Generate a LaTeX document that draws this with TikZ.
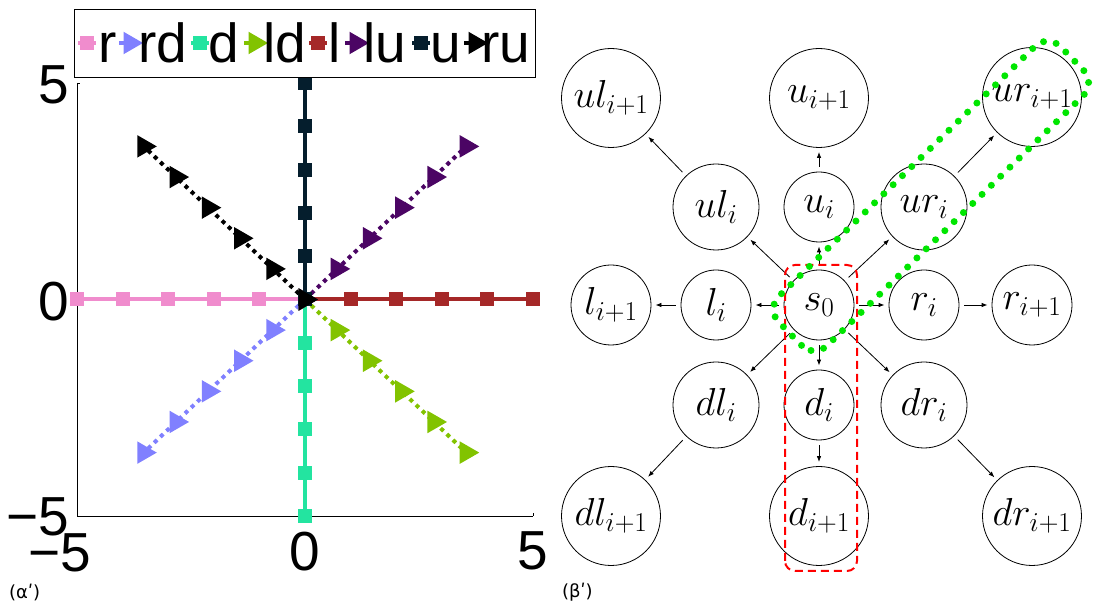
\RequirePackage{fix-cm}
\documentclass[tikz,border=0pt]{standalone}
\usepackage[no-math]{fontspec}
\setmainfont{Liberation Sans}
\newfontfamily\capfont{DejaVu Sans}
\usetikzlibrary{arrows.meta, plotmarks}

\definecolor{cr}{RGB}{240,140,205}
\definecolor{crd}{RGB}{128,128,255}
\definecolor{cd}{RGB}{35,228,160}
\definecolor{cld}{RGB}{130,195,0}
\definecolor{cl}{RGB}{165,40,40}
\definecolor{clu}{RGB}{75,5,100}
\definecolor{cu}{RGB}{5,30,45}
\definecolor{cru}{RGB}{0,0,0}
\definecolor{hlgreen}{RGB}{0,230,0}

\tikzset{
  solidln/.style={line width=4pt},
  dotln/.style={line width=4pt, dash pattern=on 4pt off 4.5pt},
  sqmark/.style={mark=square*, mark size=5pt, mark options={solid}},
  trimark/.style={mark=triangle*, mark size=9pt, mark options={solid, rotate=-90}},
  bigfont/.style={font=\fontsize{55}{60}\selectfont},
  state/.style={circle, draw, line width=0.8pt, inner sep=0pt, font=\fontsize{39}{44}\selectfont},
  stsmall/.style={state, minimum size=70pt},
  stside/.style={state, minimum size=80pt},
  stmid/.style={state, minimum size=86pt},
  stfar/.style={state, minimum size=99pt},
  trans/.style={-{Latex[length=6pt,width=4.5pt]}, line width=0.8pt, shorten <=5pt, shorten >=4pt},
}

\begin{document}
\begin{tikzpicture}[x=1pt, y=1pt]
  \useasboundingbox (0,0) rectangle (1098,608);

  % (a) plot of the eight directions
  \begin{scope}[shift={(305,308.5)}, x=45.6pt, y=43.3pt]
    \draw[line width=0.8pt] (-5,5) -- (-5,-5) -- (5,-5);
    \draw[line width=0.8pt] (-5,5) -- ++(3pt,0); \draw[line width=0.8pt] (5,-5) -- ++(0,3pt);
    \draw[cr, solidln, sqmark] plot coordinates {(0,0) (-1,0) (-2,0) (-3,0) (-4,0) (-5,0)};
    \draw[crd, dotln, trimark] plot coordinates {(0,0) (-0.707,-0.707) (-1.414,-1.414) (-2.121,-2.121) (-2.828,-2.828) (-3.536,-3.536)};
    \draw[cd, solidln, sqmark] plot coordinates {(0,0) (0,-1) (0,-2) (0,-3) (0,-4) (0,-5)};
    \draw[cld, dotln, trimark] plot coordinates {(0,0) (0.707,-0.707) (1.414,-1.414) (2.121,-2.121) (2.828,-2.828) (3.536,-3.536)};
    \draw[cl, solidln, sqmark] plot coordinates {(0,0) (1,0) (2,0) (3,0) (4,0) (5,0)};
    \draw[clu, dotln, trimark] plot coordinates {(0,0) (0.707,0.707) (1.414,1.414) (2.121,2.121) (2.828,2.828) (3.536,3.536)};
    \draw[cu, solidln, sqmark] plot coordinates {(0,0) (0,1) (0,2) (0,3) (0,4) (0,5)};
    \draw[cru, dotln, trimark] plot coordinates {(0,0) (-0.707,0.707) (-1.414,1.414) (-2.121,2.121) (-2.828,2.828) (-3.536,3.536)};
  \end{scope}

  % tick labels
  \node[bigfont, anchor=east] (yt5) at (73,523) {5};
  \node[bigfont, anchor=east] (yt0) at (73,306) {0};
  \node[bigfont, anchor=east] (ytm5) at (73,91) {−5};
  \node[bigfont] (xtm5) at (60,55) {−5};
  \node[bigfont] (xt0) at (305,56) {0};
  \node[bigfont] (xt5) at (533,57) {5};

  % legend
  \draw[line width=0.8pt, fill=white] (74,531) rectangle (535,599);
  \draw[cr, solidln, sqmark, mark indices={2}] plot coordinates {(78,565) (87,565) (96,565)};
  \draw[crd, solidln, trimark, mark indices={2}] plot coordinates {(119,565) (130,565)};
  \draw[cd, solidln, sqmark, mark indices={2}] plot coordinates {(191,565) (200,565) (209,565)};
  \draw[cld, solidln, trimark, mark indices={2}] plot coordinates {(244,565) (255,565)};
  \draw[cl, solidln, sqmark, mark indices={2}] plot coordinates {(309,565) (318,565) (327,565)};
  \draw[clu, solidln, trimark, mark indices={2}] plot coordinates {(345,565) (356,565)};
  \draw[cu, solidln, sqmark, mark indices={2}] plot coordinates {(412,565) (421,565) (430,565)};
  \draw[cru, solidln, trimark, mark indices={2}] plot coordinates {(464,565) (475,565)};
  \node[bigfont, anchor=base west, inner sep=0pt] (lgr) at (98,545) {r};
  \node[bigfont, anchor=base west, inner sep=0pt] (lgrd) at (138,545) {rd};
  \node[bigfont, anchor=base west, inner sep=0pt] (lgd) at (208,545) {d};
  \node[bigfont, anchor=base west, inner sep=0pt] (lgld) at (263,545) {ld};
  \node[bigfont, anchor=base west, inner sep=0pt] (lgl) at (328,545) {l};
  \node[bigfont, anchor=base west, inner sep=0pt] (lglu) at (363,545) {lu};
  \node[bigfont, anchor=base west, inner sep=0pt] (lgu) at (430,545) {u};
  \node[bigfont, anchor=base west, inner sep=0pt] (lgru) at (481,545) {ru};

  % (b) state graph
  \node[stfar] (ul1) at (611,510) {$ul_{i+1}$};
  \node[stfar] (u1) at (819,510) {$u_{i+1}$};
  \node[stfar] (ur1) at (1032,511) {$ur_{i+1}$};
  \node[stmid] (uli) at (716,401) {$ul_i$};
  \node[stsmall] (ui) at (819,401) {$u_i$};
  \node[stmid] (uri) at (924,401) {$ur_i$};
  \node[stside] (l1) at (611,303) {$l_{i+1}$};
  \node[stsmall] (li) at (716,303) {$l_i$};
  \node[stsmall] (s0) at (819,303) {$s_0$};
  \node[stsmall] (ri) at (924,303) {$r_i$};
  \node[stside] (r1) at (1032,303) {$r_{i+1}$};
  \node[stmid] (dli) at (716,203) {$dl_i$};
  \node[stsmall] (di) at (819,203) {$d_i$};
  \node[stmid] (dri) at (924,203) {$dr_i$};
  \node[stfar] (dl1) at (611,92) {$dl_{i+1}$};
  \node[stfar] (d1) at (819,92) {$d_{i+1}$};
  \node[stfar] (dr1) at (1032,92) {$dr_{i+1}$};

  \draw[trans] (s0) -- (li); \draw[trans] (li) -- (l1);
  \draw[trans] (s0) -- (ri); \draw[trans] (ri) -- (r1);
  \draw[trans] (s0) -- (ui); \draw[trans] (ui) -- (u1);
  \draw[trans] (s0) -- (di); \draw[trans] (di) -- (d1);
  \draw[trans] (s0) -- (uli); \draw[trans] (uli) -- (ul1);
  \draw[trans] (s0) -- (uri); \draw[trans] (uri) -- (ur1);
  \draw[trans] (s0) -- (dli); \draw[trans] (dli) -- (dl1);
  \draw[trans] (s0) -- (dri); \draw[trans] (dri) -- (dr1);

  % highlighted paths
  \draw[red, line width=2pt, dash pattern=on 8pt off 5pt, rounded corners=10pt] (785,37) rectangle (857,343);
  \draw[hlgreen, line width=7pt, dash pattern=on 0pt off 13pt, line cap=round, rounded corners=18pt, rotate around={44.3:(931,412)}] (734,377.5) rectangle (1128,446.5);

  % captions
  \node[font=\capfont\fontsize{18}{20}\selectfont, anchor=west, inner sep=0pt] (capa) at (9,16) {(αʹ)};
  \node[font=\capfont\fontsize{18}{20}\selectfont, anchor=west, inner sep=0pt] (capb) at (562,16) {(βʹ)};
\end{tikzpicture}
\end{document}
